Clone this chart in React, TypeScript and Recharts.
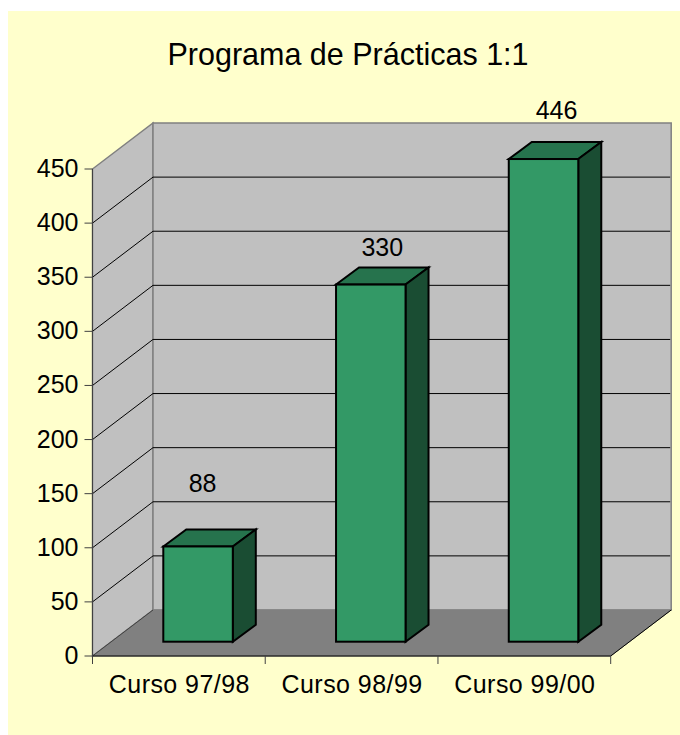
import React from "react";
import { BarChart, Bar, XAxis, YAxis, CartesianGrid } from "recharts";

const categories = ["Curso 97/98", "Curso 98/99", "Curso 99/00"];
const values = [88, 330, 446];
const yTicks = [0, 50, 100, 150, 200, 250, 300, 350, 400, 450];
const titleText = "Programa de Prácticas 1:1";
const labelShifts = [[4.5, -63], [11.5, -38], [13, -49]];

const rows = categories.map((name, i) => ({ name, value: values[i] }));

const FONT = "'Liberation Sans', Arial, sans-serif";
const W = 672, H = 724;
const ORIGIN_X = 8, ORIGIN_Y = 11;
const LEFT = 92.5 - ORIGIN_X, RIGHT = 610.7 - ORIGIN_X, TOP = 169 - ORIGIN_Y, BOTTOM = 656 - ORIGIN_Y;
const DEPTH_X = 60.5, DEPTH_Y = -46;
const BAND = (RIGHT - LEFT) / categories.length;
const BAR_DX = 18.8, BAR_DY = -14.3, CUBE_X = 23, CUBE_Y = -17;

function gridLine(p: any) {
  const { x1, x2, y1, index } = p;
  const isEdge = Math.abs(y1 - TOP) < 1 || Math.abs(y1 - BOTTOM) < 1;
  return (
    <g key={"grid-" + index}>
      {index === 0 && (
        <g>
          <polygon
            points={`${LEFT},${TOP} ${LEFT + DEPTH_X},${TOP + DEPTH_Y} ${LEFT + DEPTH_X},${BOTTOM + DEPTH_Y} ${LEFT},${BOTTOM}`}
            fill="#C0C0C0" stroke="#808080" strokeWidth={1.5}
          />
          <rect x={LEFT + DEPTH_X} y={TOP + DEPTH_Y} width={RIGHT - LEFT} height={BOTTOM - TOP}
            fill="#C0C0C0" stroke="#808080" strokeWidth={1.5} />
          <polygon
            points={`${LEFT},${BOTTOM} ${LEFT + DEPTH_X},${BOTTOM + DEPTH_Y} ${RIGHT + DEPTH_X},${BOTTOM + DEPTH_Y} ${RIGHT},${BOTTOM}`}
            fill="#808080" stroke="#808080" strokeWidth={1}
          />
          <line x1={LEFT} y1={BOTTOM} x2={LEFT + DEPTH_X} y2={BOTTOM + DEPTH_Y} stroke="#404040" strokeWidth={1} />
          <line x1={RIGHT} y1={BOTTOM} x2={RIGHT + DEPTH_X} y2={BOTTOM + DEPTH_Y} stroke="#000" strokeWidth={1} />
        </g>
      )}
      {!isEdge && (
        <polyline
          points={`${x1},${y1} ${x1 + DEPTH_X},${y1 + DEPTH_Y} ${x2 + DEPTH_X - 1},${y1 + DEPTH_Y}`}
          fill="none" stroke="#000" strokeWidth={1}
        />
      )}
    </g>
  );
}

function CubeBar(p: any) {
  const { x, y, width, height, index, value } = p;
  const fx = x + BAR_DX, fy = y + BAR_DY, r = fx + width, b = fy + height;
  const shift = labelShifts[index];
  return (
    <g stroke="#000" strokeWidth={2} strokeLinejoin="miter">
      <polygon points={`${fx},${fy} ${fx + CUBE_X},${fy + CUBE_Y} ${r + CUBE_X},${fy + CUBE_Y} ${r},${fy}`} fill="#26734D" />
      <polygon points={`${r},${fy} ${r + CUBE_X},${fy + CUBE_Y} ${r + CUBE_X},${b + CUBE_Y} ${r},${b}`} fill="#1A4D33" />
      <rect x={fx} y={fy} width={width} height={height} fill="#339966" />
      <text x={fx + width / 2 + shift[0]} y={fy + shift[1]} textAnchor="middle" dominantBaseline="central"
        fontFamily={FONT} fontSize={25} fill="#000" stroke="none">{value}</text>
    </g>
  );
}

function XTick(p: any) {
  const { x, payload, index } = p;
  const edge = x + BAND / 2;
  return (
    <g>
      {index === 0 && <line x1={x - BAND / 2} y1={BOTTOM} x2={x - BAND / 2} y2={BOTTOM + 8} stroke="#404040" />}
      <line x1={edge} y1={BOTTOM} x2={edge} y2={BOTTOM + 8} stroke="#404040" />
      <text x={x + 0.5} y={BOTTOM + 28} textAnchor="middle" dominantBaseline="central" fontFamily={FONT} fontSize={25} letterSpacing={0.45} fill="#000">
        {payload.value}
      </text>
    </g>
  );
}

function YTick(p: any) {
  const { x, y, payload } = p;
  return (
    <text x={x} y={y - 1} textAnchor="end" dominantBaseline="central" fontFamily={FONT} fontSize={25} fill="#000">
      {payload.value}
    </text>
  );
}

export default function App() {
  return (
    <div style={{ position: "fixed", left: ORIGIN_X, top: ORIGIN_Y, right: 0, bottom: 0, background: "#FFFFCC", overflow: "hidden" }}>
      <div style={{ position: "absolute", left: 0, top: 24, width: 680, textAlign: "center", fontFamily: FONT, fontSize: 30.5, lineHeight: "38px", color: "#000" }}>
        {titleText}
      </div>
      <BarChart width={W} height={H} data={rows} barSize={69.5}
        margin={{ top: TOP, bottom: 0, left: 0, right: W - RIGHT }}
        style={{ position: "absolute", left: 0, top: 0 }}>
        <CartesianGrid vertical={false} horizontal={gridLine as any} stroke="#000" />
        <XAxis dataKey="name" tickLine={false} axisLine={{ stroke: "#000" }} height={H - BOTTOM} tick={XTick as any} interval={0} />
        <YAxis width={LEFT} domain={[0, 450]} ticks={yTicks} interval={0} tickSize={8} tickMargin={6}
          axisLine={{ stroke: "#404040" }} tickLine={{ stroke: "#404040" }} tick={YTick as any} />
        <Bar dataKey="value" isAnimationActive={false} shape={CubeBar as any} />
      </BarChart>
    </div>
  );
}
